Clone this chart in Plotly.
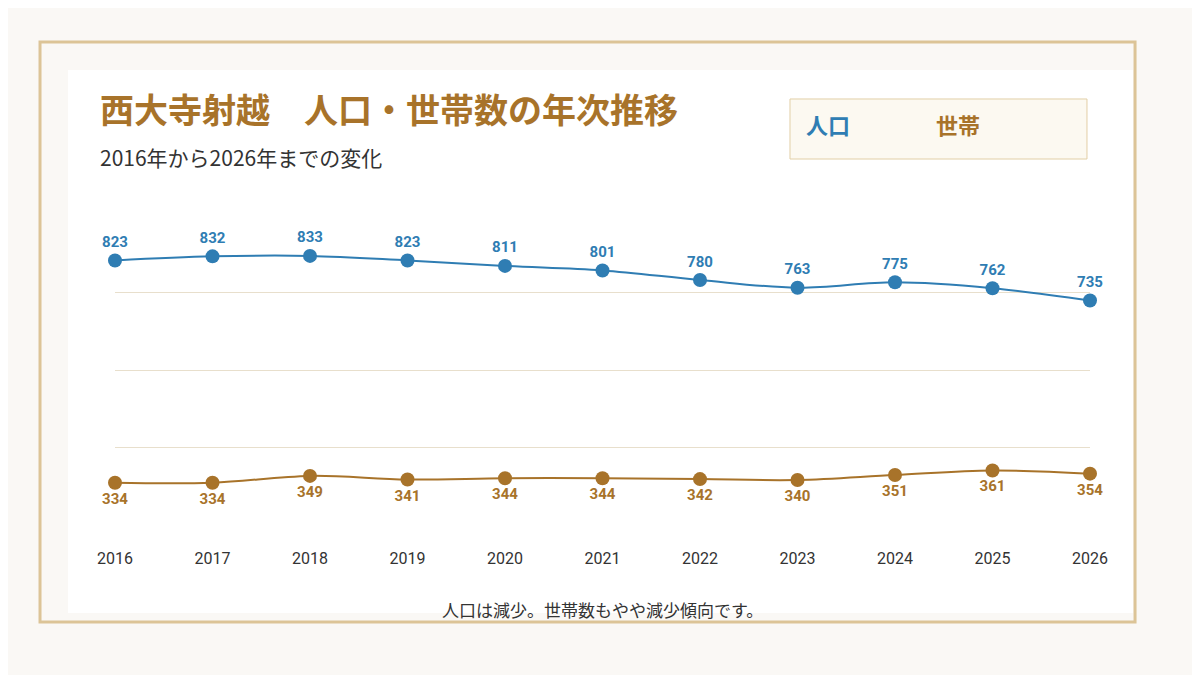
import plotly.graph_objects as go

years = [2016, 2017, 2018, 2019, 2020, 2021, 2022, 2023, 2024, 2025, 2026]
population = [823, 832, 833, 823, 811, 801, 780, 763, 775, 762, 735]
households = [334, 334, 349, 341, 344, 344, 342, 340, 351, 361, 354]

blue = "#2f7db3"
brown = "#a8732a"
font = "Noto Sans CJK JP"

fig = go.Figure()
fig.add_trace(go.Scatter(
    x=years, y=population, mode="lines+markers+text", name="人口",
    line=dict(color=blue, width=2, shape="spline"),
    marker=dict(size=14, color=blue),
    text=["<b>%d</b>" % v for v in population], textposition="top center",
    textfont=dict(color=blue, size=15, family="Roboto"),
))
fig.add_trace(go.Scatter(
    x=years, y=households, mode="lines+markers+text", name="世帯",
    line=dict(color=brown, width=2, shape="spline"),
    marker=dict(size=14, color=brown),
    text=["<b>%d</b>" % v for v in households], textposition="bottom center",
    textfont=dict(color=brown, size=15, family="Roboto"),
))

# frame and white panel
fig.add_shape(type="rect", xref="paper", yref="paper", x0=-0.0769, x1=1.0462, y0=-0.3129, y1=1.5581,
              line=dict(color="#dcc497", width=3), fillcolor="rgba(0,0,0,0)", layer="below")
fig.add_shape(type="rect", xref="paper", yref="paper", x0=-0.0482, x1=1.0441, y0=-0.2839, y1=1.4677,
              line=dict(width=0), fillcolor="white", layer="below")
# legend box
fig.add_shape(type="rect", xref="paper", yref="paper", x0=0.6923, x1=0.9969, y0=1.1806, y1=1.3742,
              line=dict(color="#e2cfa6", width=1), fillcolor="#fcf9f1")

fig.add_annotation(text="<b>人口</b>", x=0.756, y=1.294, xref="paper", yref="paper", yanchor="middle",
                   showarrow=False, font=dict(color=blue, size=22, family=font))
fig.add_annotation(text="<b>世帯</b>", x=0.889, y=1.294, xref="paper", yref="paper", yanchor="middle",
                   showarrow=False, font=dict(color=brown, size=22, family=font))
fig.add_annotation(text="<b>西大寺射越　人口・世帯数の年次推移</b>", x=-0.017, y=1.345, xref="paper", yref="paper",
                   xanchor="left", yanchor="middle", showarrow=False, font=dict(color=brown, size=34, family=font))
fig.add_annotation(text="2016年から2026年までの変化", x=-0.017, y=1.187, xref="paper", yref="paper",
                   xanchor="left", yanchor="middle", showarrow=False, font=dict(color="#333", size=21, family=font))
fig.add_annotation(text="人口は減少。世帯数もやや減少傾向です。", x=0.5, y=-0.274, xref="paper", yref="paper",
                   yanchor="middle", showarrow=False, font=dict(color="#333", size=17, family=font))

fig.update_layout(
    width=1200, height=675,
    paper_bgcolor="#faf8f5", plot_bgcolor="white",
    margin=dict(l=107, r=118, t=207, b=158),
    showlegend=False,
    xaxis=dict(tickvals=years, ticktext=[str(y) for y in years], range=[2016, 2026],
               showgrid=False, zeroline=False, tickfont=dict(size=16, color="#333", family="Roboto"),
               ticks="", ticklabelstandoff=22),
    yaxis=dict(range=[241, 923], tick0=242, dtick=170, showticklabels=False,
               gridcolor="#e8dfcc", zeroline=False),
)
fig.update_traces(cliponaxis=False)
fig.write_html("out.html")
